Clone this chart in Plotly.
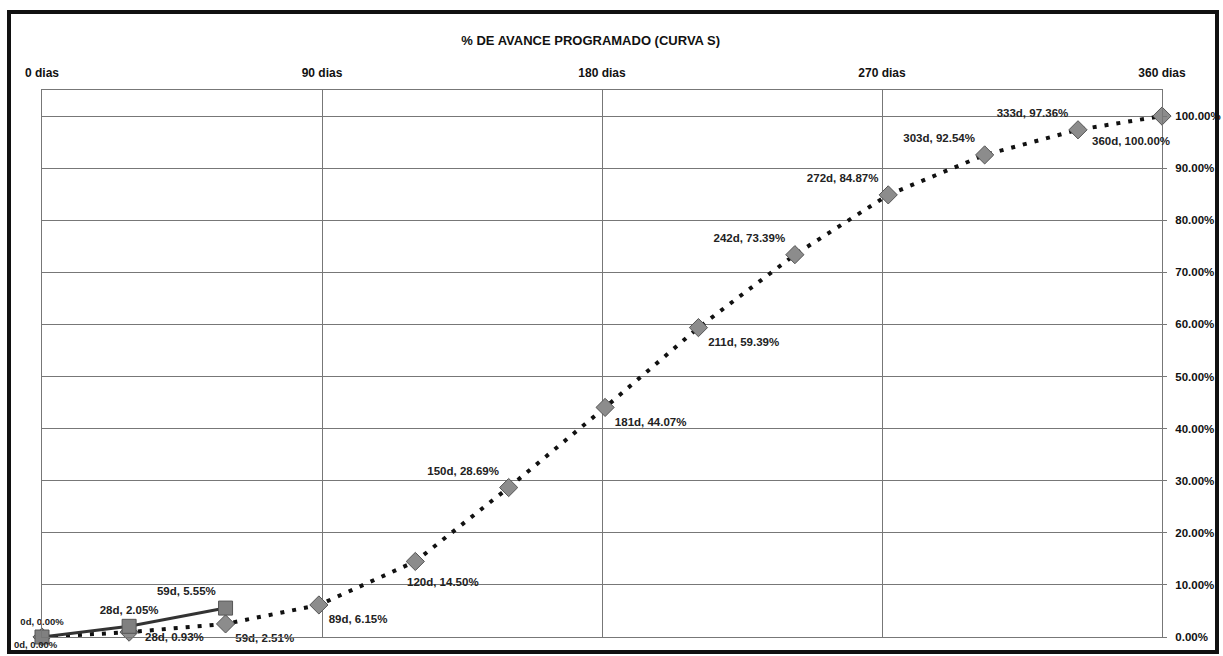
import plotly.graph_objects as go

# --- data ---
prog_days = [0, 28, 59, 89, 120, 150, 181, 211, 242, 272, 303, 333, 360]
prog_pct = [0.00, 0.93, 2.51, 6.15, 14.50, 28.69, 44.07, 59.39, 73.39, 84.87, 92.54, 97.36, 100.00]
prog_pos = [None, None, "bottom right", "bottom right", None,
            "top left", "bottom right", "bottom right", "top left", "top left",
            "top left", "top left", None]

real_days = [0, 28, 59]
real_pct = [0.00, 2.05, 5.55]
real_pos = ["top center", "top center", "top left"]

x_ticks = [0, 90, 180, 270, 360]
x_tick_labels = ["0 dias", "90 dias", "180 dias", "270 dias", "360 dias"]
y_ticks = [0, 10, 20, 30, 40, 50, 60, 70, 80, 90, 100]

title = "% DE AVANCE PROGRAMADO (CURVA S)"

FONT = "Liberation Sans, Arial"


def label(d, p):
    return f"{d}d, {p:.2f}%"


def lab_font(n):
    sizes = [11.5] * n
    sizes[0] = 9.5
    return dict(family=FONT, size=sizes, color="#222", weight="bold")


# labels placed as annotations (index: xanchor, xshift, yshift, size)
prog_ann = {0: ("center", -6, -7, 9.5), 1: ("left", 14, -5, 11.5),
            4: ("left", -10, -21, 11.5), 12: ("right", 10, -25, 11.5)}

prog_text = [label(d, p) if i not in prog_ann else "" for i, (d, p) in enumerate(zip(prog_days, prog_pct))]
prog_tp = [pos if pos else "middle right" for pos in prog_pos]

fig = go.Figure()
fig.add_trace(go.Scatter(
    x=prog_days, y=[v / 100 for v in prog_pct],
    mode="lines+markers+text",
    line=dict(color="#111", width=4, dash="4px,8px"),
    marker=dict(symbol="diamond", size=14, color="#8c8c8c", line=dict(color="#555", width=1)),
    text=prog_text, textposition=prog_tp,
    textfont=dict(family=FONT, size=11.5, color="#222", weight="bold"),
    cliponaxis=False, showlegend=False))
fig.add_trace(go.Scatter(
    x=real_days, y=[v / 100 for v in real_pct],
    mode="lines+markers+text",
    line=dict(color="#333", width=3),
    marker=dict(symbol="square", size=14, color="#808080", line=dict(color="#555", width=1)),
    text=[label(d, p) for d, p in zip(real_days, real_pct)],
    textposition=real_pos, textfont=lab_font(len(real_days)), cliponaxis=False, showlegend=False))

for i, (xa, xs, ys, sz) in prog_ann.items():
    fig.add_annotation(x=prog_days[i], y=prog_pct[i] / 100, text=label(prog_days[i], prog_pct[i]),
                       showarrow=False, xanchor=xa, yanchor="middle", xshift=xs, yshift=ys,
                       font=dict(family=FONT, size=sz, color="#222", weight="bold"))

W, H = 1223, 656
ml, mr, mt, mb = 42, 61, 90, 19
pw, ph = W - ml - mr, H - mt - mb

fig.update_layout(
    width=W, height=H,
    margin=dict(l=ml, r=mr, t=mt, b=mb, pad=0),
    paper_bgcolor="white", plot_bgcolor="white",
    title=dict(text=title, x=0.483, xanchor="center", y=1 - 40 / H, yanchor="middle",
               font=dict(family=FONT, size=13, color="#111", weight="bold")),
    xaxis=dict(range=[0, 360], side="top", tickvals=x_ticks, ticktext=x_tick_labels,
               showgrid=True, gridcolor="#777", gridwidth=1, zeroline=False, automargin=False,
               showline=True, linecolor="#777", mirror=True, ticks="", ticklabelstandoff=7,
               tickfont=dict(family=FONT, size=12, color="#111", weight="bold")),
    yaxis=dict(range=[0, 1.05], side="right", tickvals=[v / 100 for v in y_ticks], tickformat=".2%",
               showgrid=True, gridcolor="#777", gridwidth=1, zeroline=False, automargin=False,
               showline=True, linecolor="#777", mirror=True, ticks="outside", ticklen=4, tickcolor="#777",
               ticklabelstandoff=6,
               tickfont=dict(family=FONT, size=11.5, color="#111", weight="bold")),
)

# outer frame
fig.add_shape(type="rect", xref="paper", yref="paper",
              x0=(9 - ml) / pw, x1=(1217 - ml) / pw,
              y0=(H - mb - 652) / ph, y1=(H - mb - 12) / ph,
              line=dict(color="#111", width=4), layer="above")

fig.write_html(
    "out.html",
    config={"displayModeBar": False},
    post_script="document.body.style.margin='0';document.body.style.overflow='hidden';",
)
